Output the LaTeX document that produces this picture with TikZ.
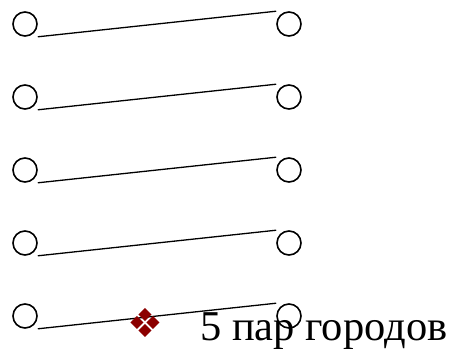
\documentclass[tikz,border=0pt]{standalone}
\usepackage{fontspec}
\setmainfont{Liberation Serif}
\newfontfamily\symfont{DejaVu Sans}
\begin{document}
\begin{tikzpicture}[x=1pt,y=-1pt,
  city/.style={circle,draw,line width=1.6pt,minimum size=24pt,inner sep=0pt},
  link/.style={line width=1.3pt}]
\useasboundingbox (0,0) rectangle (454,348);
\foreach \i/\y in {1/24,2/97,3/170,4/243,5/316}{
  \node[city] (l\i) at (25,\y) {};
  \node[city] (r\i) at (289,\y) {};
  \draw[link] (l\i.east |- l\i.south) -- (r\i.west |- r\i.north);
}
\node[anchor=center,inner sep=0pt,text=red!55!black,font=\symfont\fontsize{40}{40}\selectfont] (bul) at (145,323) {❖};
\node[anchor=base west,inner sep=0pt,font=\fontsize{42.5}{42.5}\selectfont] (txt) at (200,340) {5 пар городов};
\end{tikzpicture}
\end{document}
